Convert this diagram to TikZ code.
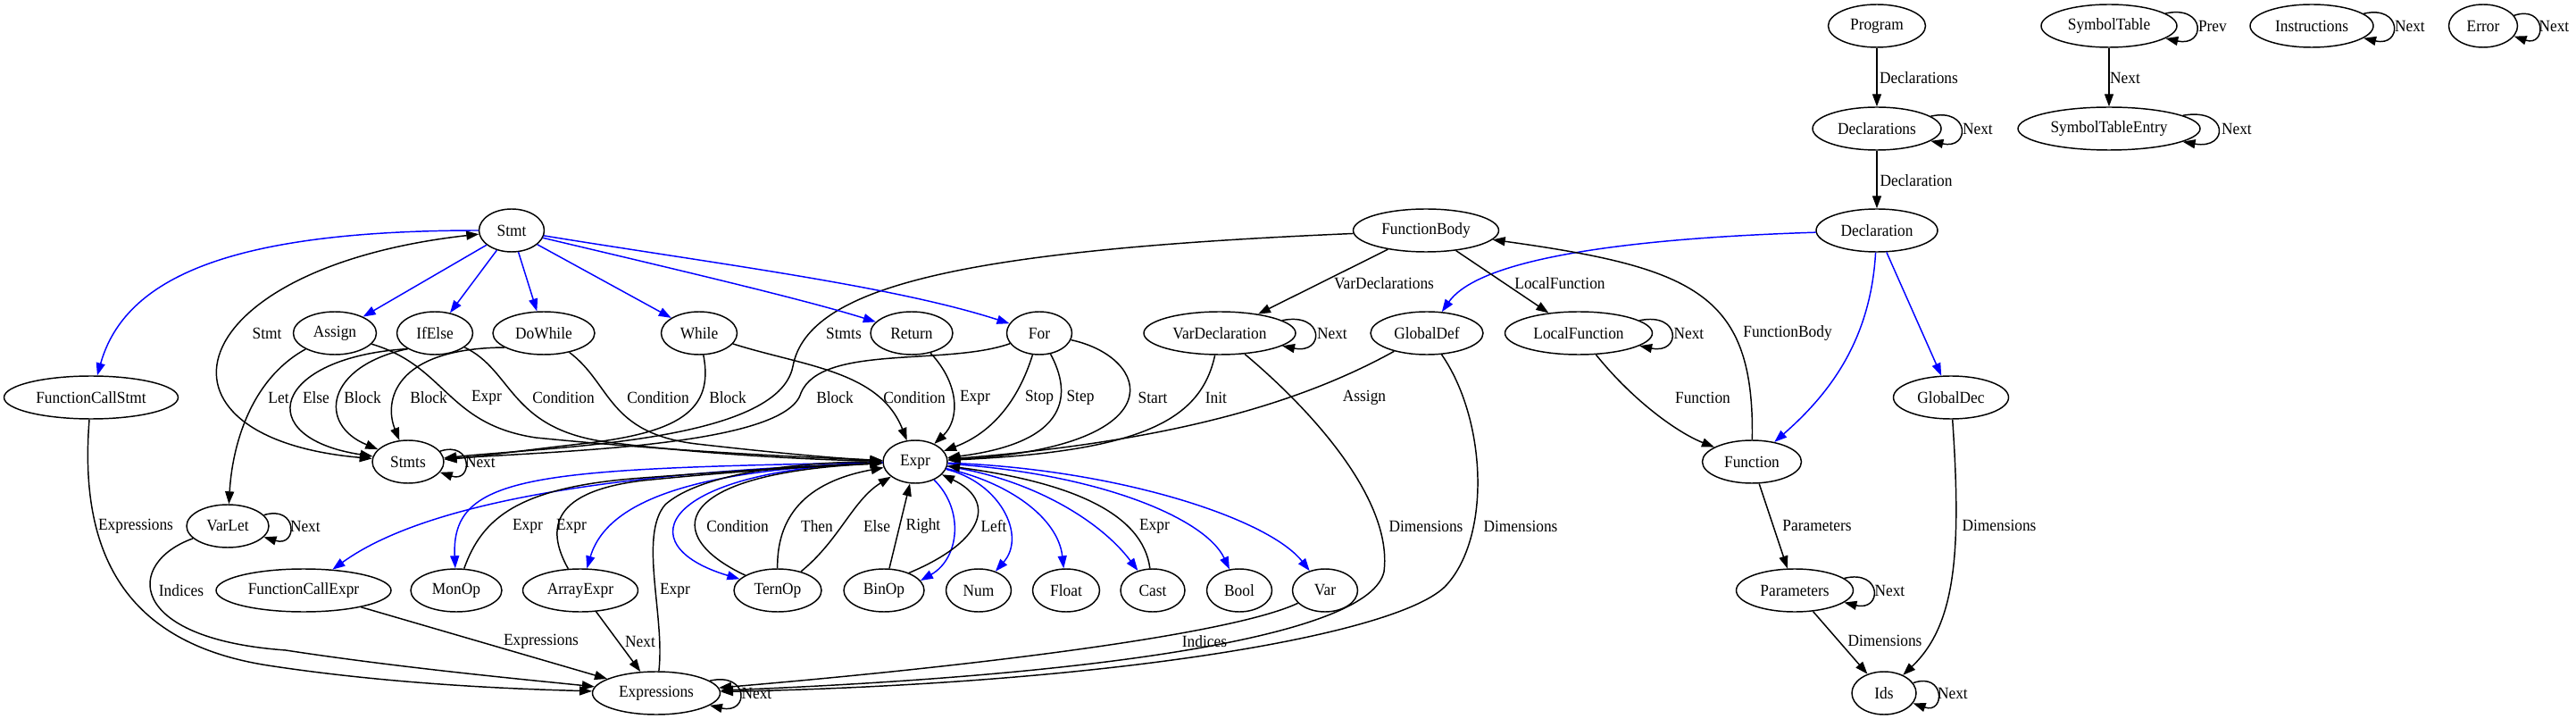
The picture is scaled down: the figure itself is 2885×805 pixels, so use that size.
\documentclass[tikz,border=0pt]{standalone}
\usepackage{fontspec}
\setmainfont{Liberation Serif}[FakeStretch=0.93]
\usetikzlibrary{shapes.geometric,arrows.meta,calc}
\newcommand\fsz{\fontsize{14pt}{16pt}\selectfont}
\newcommand\selfloop[2]{%
  \draw[edg] (#1) .. controls ($(#1.east)+(32,-24)$) and ($(#1.east)+(32,24)$) .. (#1);
  \node[lbl, anchor=west] (#1-lp) at ($(#1.east)+(23,0)$) {#2};}
\tikzset{
  nd/.style={ellipse, draw, line width=1.1pt, minimum height=36pt, minimum width=54pt, inner sep=0pt, font=\fsz},
  nw/.style={minimum width=#1*0.75pt},
  edg/.style={draw, line width=1.1pt, -{Triangle[length=10.5pt,width=7.5pt]}},
  bedg/.style={edg, blue},
  lbl/.style={inner sep=0pt, font=\fsz}
}
\begin{document}
\begin{tikzpicture}[x=0.75pt,y=-0.75pt]
\useasboundingbox (0,0) rectangle (2885,805);
% ---------- nodes ----------
\node[nd, nw=109] (Program) at (2102,29) {Program};
\node[nd, nw=152] (SymbolTable) at (2362,29) {SymbolTable};
\node[nd, nw=138] (Instructions) at (2589,29) {Instructions};
\node[nd, nw=77] (Error) at (2781,29) {Error};
\node[nd, nw=144] (Declarations) at (2102,144) {Declarations};
\node[nd, nw=204] (SymbolTableEntry) at (2362,144) {SymbolTableEntry};
\node[nd, nw=136] (Declaration) at (2102,258) {Declaration};
\node[nd, nw=73] (Stmt) at (573,258) {Stmt};
\node[nd, nw=163] (FunctionBody) at (1597,258) {FunctionBody};
\node[nd, nw=93] (Assign) at (375,373) {Assign};
\node[nd, nw=85] (IfElse) at (487,373) {IfElse};
\node[nd, nw=114] (DoWhile) at (609,373) {DoWhile};
\node[nd, nw=85] (While) at (783,373) {While};
\node[nd, nw=92] (Return) at (1021,373) {Return};
\node[nd, nw=73] (For) at (1164,373) {For};
\node[nd, nw=170] (VarDeclaration) at (1366,373) {VarDeclaration};
\node[nd, nw=126] (GlobalDef) at (1598,373) {GlobalDef};
\node[nd, nw=165] (LocalFunction) at (1768,373) {LocalFunction};
\node[nd, nw=195] (FunctionCallStmt) at (102,445) {FunctionCallStmt};
\node[nd, nw=129] (GlobalDec) at (2185,445) {GlobalDec};
\node[nd, nw=80] (Stmts) at (457,517) {Stmts};
\node[nd, nw=72] (Expr) at (1025,517) {Expr};
\node[nd, nw=111] (Function) at (1962,517) {Function};
\node[nd, nw=92] (VarLet) at (255,589) {VarLet};
\node[nd, nw=196] (FunctionCallExpr) at (340,661) {FunctionCallExpr};
\node[nd, nw=102] (MonOp) at (511,661) {MonOp};
\node[nd, nw=129] (ArrayExpr) at (650,661) {ArrayExpr};
\node[nd, nw=98] (TernOp) at (871,661) {TernOp};
\node[nd, nw=90] (BinOp) at (990,661) {BinOp};
\node[nd, nw=73] (Num) at (1096,661) {Num};
\node[nd, nw=75] (Float) at (1194,661) {Float};
\node[nd, nw=72] (Cast) at (1291,661) {Cast};
\node[nd, nw=73] (Bool) at (1388,661) {Bool};
\node[nd, nw=73] (Var) at (1484,661) {Var};
\node[nd, nw=131] (Parameters) at (2010,661) {Parameters};
\node[nd, nw=143] (Expressions) at (735,776) {Expressions};
\node[nd, nw=72] (Ids) at (2110,776) {Ids};
% ---------- self loops ----------
\selfloop{SymbolTable}{Prev}
\selfloop{SymbolTableEntry}{Next}
\selfloop{Instructions}{Next}
\selfloop{Error}{Next}
\selfloop{Declarations}{Next}
\selfloop{VarDeclaration}{Next}
\selfloop{LocalFunction}{Next}
\selfloop{Stmts}{Next}
\selfloop{VarLet}{Next}
\selfloop{Parameters}{Next}
\selfloop{Ids}{Next}
\selfloop{Expressions}{Next}
% ---------- top right ----------
\draw[edg] (Program) -- (Declarations);
\draw[edg] (Declarations) -- (Declaration);
\draw[edg] (SymbolTable) -- (SymbolTableEntry);
\draw[bedg] (Declaration) .. controls (1850,266) and (1660,285) .. (GlobalDef);
\draw[bedg] (Declaration) .. controls (2095,380) and (2050,440) .. (Function);
\draw[bedg] (Declaration) -- (GlobalDec);
\draw[edg] (FunctionBody) -- (VarDeclaration);
\draw[edg] (FunctionBody) -- (LocalFunction);
\draw[edg] (FunctionBody) .. controls (1080,280) and (905,320) .. (888,410) .. controls (872,495) and (620,500) .. (Stmts);
\draw[edg] (Function) .. controls (1965,330) and (1900,300) .. (FunctionBody);
\draw[edg] (LocalFunction) .. controls (1830,450) and (1880,485) .. (Function);
\draw[edg] (Function) -- (Parameters);
\draw[edg] (Parameters) -- (Ids);
\draw[edg] (GlobalDec) .. controls (2197,620) and (2190,700) .. (Ids);
\draw[edg] (VarDeclaration) .. controls (1345,470) and (1280,505) .. (Expr);
\draw[edg] (VarDeclaration) .. controls (1470,460) and (1560,560) .. (1550,640) .. controls (1535,710) and (1250,755) .. (Expressions);
\draw[edg] (GlobalDef) .. controls (1450,455) and (1300,495) .. (Expr);
\draw[edg] (GlobalDef) .. controls (1665,470) and (1670,600) .. (1620,655) .. controls (1570,710) and (1250,765) .. (Expressions);
% ---------- Stmt ----------
\draw[bedg] (Stmt) .. controls (260,258) and (140,310) .. (FunctionCallStmt);
\draw[bedg] (Stmt) -- (Assign);
\draw[bedg] (Stmt) -- (IfElse);
\draw[bedg] (Stmt) -- (DoWhile);
\draw[bedg] (Stmt) -- (While);
\draw[bedg] (Stmt) .. controls (750,300) and (900,335) .. (Return);
\draw[bedg] (Stmt) .. controls (800,295) and (1000,320) .. (For);
\draw[edg, {Triangle[length=10.5pt,width=7.5pt]}-{Triangle[length=10.5pt,width=7.5pt]}] (Stmts) .. controls (150,490) and (200,300) .. (Stmt);
\draw[edg] (Assign) .. controls (280,425) and (260,500) .. (VarLet);
\draw[edg] (Assign) .. controls (500,410) and (500,475) .. (600,490) .. controls (750,505) and (900,512) .. (Expr);
\draw[edg] (IfElse.210) .. controls (305,400) and (280,490) .. (Stmts);
\draw[edg] (IfElse.210) .. controls (365,410) and (355,475) .. (Stmts);
\draw[edg] (IfElse) .. controls (575,415) and (570,480) .. (680,495) .. controls (800,510) and (920,515) .. (Expr);
\draw[edg] (DoWhile.200) .. controls (440,390) and (430,450) .. (Stmts);
\draw[edg] (DoWhile) .. controls (685,430) and (680,485) .. (780,497) .. controls (850,505) and (930,513) .. (Expr);
\draw[edg] (While) .. controls (800,460) and (760,485) .. (650,497) .. controls (580,505) and (530,512) .. (Stmts);
\draw[edg] (While) .. controls (900,410) and (985,415) .. (Expr);
\draw[edg] (Return) .. controls (1075,430) and (1075,470) .. (Expr);
\draw[edg] (For) .. controls (1060,410) and (920,385) .. (897,440) .. controls (880,500) and (620,505) .. (Stmts);
\draw[edg] (For) .. controls (1140,450) and (1110,485) .. (Expr);
\draw[edg] (For) .. controls (1200,440) and (1200,495) .. (Expr);
\draw[edg] (For) .. controls (1290,400) and (1320,500) .. (Expr);
\draw[edg] (FunctionCallStmt) .. controls (88,620) and (140,720) .. (300,745) .. controls (450,768) and (600,772) .. (Expressions);
\draw[edg] (VarLet) .. controls (140,630) and (140,715) .. (320,728) .. controls (450,748) and (600,762) .. (Expressions);
\draw[edg] (FunctionCallExpr) -- (Expressions);
\draw[edg] (ArrayExpr) -- (Expressions);
% ---------- Expr ----------
\draw[bedg] (Expr) .. controls (700,528) and (480,560) .. (FunctionCallExpr);
\draw[bedg] (Expr) .. controls (600,525) and (505,530) .. (MonOp);
\draw[bedg] (Expr) .. controls (780,525) and (680,560) .. (ArrayExpr);
\draw[bedg] (Expr) .. controls (740,525) and (700,610) .. (TernOp);
\draw[bedg] (Expr) .. controls (1080,570) and (1075,625) .. (BinOp.15);
\draw[bedg] (Expr) .. controls (1120,540) and (1150,600) .. (Num);
\draw[bedg] (Expr) .. controls (1130,540) and (1185,580) .. (Float);
\draw[bedg] (Expr) .. controls (1150,535) and (1230,580) .. (Cast);
\draw[bedg] (Expr) .. controls (1230,530) and (1350,580) .. (Bool);
\draw[bedg] (Expr) .. controls (1250,525) and (1420,580) .. (Var);
\draw[edg] (MonOp) .. controls (540,580) and (580,545) .. (720,535) .. controls (850,525) and (940,520) .. (Expr);
\draw[edg] (ArrayExpr) .. controls (610,590) and (620,550) .. (720,538) .. controls (850,525) and (940,521) .. (Expr);
\draw[edg] (TernOp) .. controls (740,600) and (750,530) .. (Expr);
\draw[edg] (TernOp) .. controls (870,580) and (900,540) .. (Expr);
\draw[edg] (TernOp) .. controls (940,605) and (955,560) .. (Expr);
\draw[edg] (BinOp) -- (Expr);
\draw[edg] (BinOp.35) .. controls (1105,605) and (1115,560) .. (Expr);
\draw[edg] (Cast) .. controls (1280,575) and (1200,540) .. (Expr);
\draw[edg] (Var) .. controls (1380,710) and (1100,745) .. (Expressions);
\draw[edg] (Expressions) .. controls (745,690) and (715,600) .. (745,565) .. controls (790,525) and (920,517) .. (Expr);
% ---------- labels ----------
\node[lbl] (L1) at (2149,87) {Declarations};
\node[lbl] (L2) at (2146,202) {Declaration};
\node[lbl] (L3) at (2380,87) {Next};
\node[lbl] (L4) at (1550,317) {VarDeclarations};
\node[lbl] (L5) at (1747,317) {LocalFunction};
\node[lbl] (L6) at (945,373) {Stmts};
\node[lbl] (L7) at (2002,373) {FunctionBody};
\node[lbl] (L8) at (1907,445) {Function};
\node[lbl] (L9) at (2035,588) {Parameters};
\node[lbl] (L10) at (2111,717) {Dimensions};
\node[lbl] (L11) at (2239,588) {Dimensions};
\node[lbl] (L12) at (1362,445) {Init};
\node[lbl] (L13) at (1528,445) {Assign};
\node[lbl] (L14) at (1597,589) {Dimensions};
\node[lbl] (L15) at (1703,589) {Dimensions};
\node[lbl] (L16) at (299,373) {Stmt};
\node[lbl] (L17) at (312,445) {Let};
\node[lbl] (L18) at (354,445) {Else};
\node[lbl] (L19) at (406,445) {Block};
\node[lbl] (L20) at (480,445) {Block};
\node[lbl] (L21) at (545,445) {Expr};
\node[lbl] (L22) at (631,445) {Condition};
\node[lbl] (L23) at (737,445) {Condition};
\node[lbl] (L24) at (815,445) {Block};
\node[lbl] (L25) at (935,445) {Block};
\node[lbl] (L26) at (1024,445) {Condition};
\node[lbl] (L27) at (1092,445) {Expr};
\node[lbl] (L28) at (1164,445) {Stop};
\node[lbl] (L29) at (1210,445) {Step};
\node[lbl] (L30) at (1291,445) {Start};
\node[lbl] (L31) at (152,589) {Expressions};
\node[lbl] (L32) at (203,661) {Indices};
\node[lbl] (L33) at (591,589) {Expr};
\node[lbl] (L34) at (640,589) {Expr};
\node[lbl] (L35) at (826,589) {Condition};
\node[lbl] (L36) at (915,589) {Then};
\node[lbl] (L37) at (982,589) {Else};
\node[lbl] (L38) at (1034,589) {Right};
\node[lbl] (L39) at (1113,589) {Left};
\node[lbl] (L40) at (1293,589) {Expr};
\node[lbl] (L41) at (756,661) {Expr};
\node[lbl] (L42) at (606,718) {Expressions};
\node[lbl] (L43) at (717,718) {Next};
\node[lbl] (L44) at (1349,718) {Indices};
\end{tikzpicture}
\end{document}
